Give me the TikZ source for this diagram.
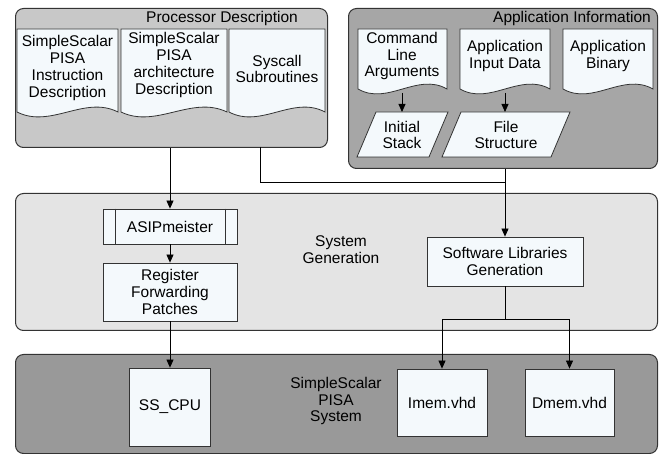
\documentclass[tikz,border=0pt]{standalone}
\usepackage{fontspec}
\setmainfont{Liberation Sans}
\usetikzlibrary{arrows.meta}
\definecolor{procfill}{HTML}{C8C8C8}
\definecolor{appfill}{HTML}{A6A6A6}
\definecolor{genfill}{HTML}{E4E4E4}
\definecolor{sysfill}{HTML}{999999}
\definecolor{docfill}{HTML}{F4F9FC}
\definecolor{edge}{HTML}{333333}
\newcommand\mydocshape[4]{%
  \draw[docshape] (#1,#3) -- (#2,#3) -- (#2,#4)
    .. controls ({#2-(#2-#1)/3},{#4-17}) and ({#1+(#2-#1)/3},{#4+17}) .. (#1,#4) -- cycle;}
\newcommand\myparallel[5]{%
  \draw[docshape] ({#1+#5},#3) -- ({#2+#5},#3) -- (#2,#4) -- (#1,#4) -- cycle;}
\begin{document}
\begin{tikzpicture}[x=1pt,y=-1pt,
  font=\fontsize{15.5}{16.7}\selectfont,
  group/.style={draw=edge, line width=1pt, rounded corners=8pt, inner sep=0pt, anchor=north west},
  docshape/.style={draw=edge, fill=docfill, line width=0.8pt},
  txt/.style={align=center, inner sep=0pt},
  procbox/.style={draw=edge, fill=docfill, line width=0.8pt, align=center, inner sep=0pt},
  arr/.style={-{Triangle[length=8pt,width=7pt]}, line width=0.8pt, draw=black},
  conn/.style={line width=0.8pt, draw=black}]
\useasboundingbox (0,0) rectangle (659,454);

% group boxes
\node[group, fill=procfill, minimum width=312pt, minimum height=139pt] (procgrp) at (15,8) {};
\node[group, fill=appfill, minimum width=309pt, minimum height=160pt] (appgrp) at (348,8) {};
\node[group, fill=genfill, minimum width=642pt, minimum height=137pt] (gengrp) at (15,193) {};
\node[group, fill=sysfill, minimum width=642pt, minimum height=99pt] (sysgrp) at (15,354) {};

\node[txt] (proctitle) at (222,18) {Processor Description};
\node[txt] (apptitle) at (572,18) {Application Information};
\node[txt] (gentitle) at (341,250) {System\\Generation};
\node[txt] (systitle) at (336,401) {SimpleScalar\\PISA\\System};

% processor description documents
\mydocshape{17}{118}{29}{112}
\node[txt] (instr) at (67.5,68) {SimpleScalar\\PISA\\Instruction\\Description};
\mydocshape{121}{227}{29}{112}
\node[txt] (arch) at (174,65) {SimpleScalar\\PISA\\architecture\\Description};
\mydocshape{229}{325}{29}{112}
\node[txt] (syscall) at (277,69) {Syscall\\Subroutines};

% application documents
\mydocshape{358}{447}{29}{89}
\node[txt] (cla) at (402,56) {Command\\Line\\Arguments};
\mydocshape{460}{550}{29}{89}
\node[txt] (aid) at (505,56) {Application\\Input Data};
\mydocshape{563}{653}{29}{89}
\node[txt] (abin) at (608,56) {Application\\Binary};

% parallelograms
\myparallel{357}{429}{112}{157}{19}
\node[txt] (istack) at (402,135) {Initial\\Stack};
\myparallel{442}{551}{112}{157}{19}
\node[txt] (fstruct) at (506,135) {File\\Structure};
\coordinate (clab) at (402,93);
\coordinate (aidb) at (505,93);
\coordinate (istop) at (402,112);
\coordinate (fstop) at (505,112);
\draw[arr] (clab) -- (istop);
\draw[arr] (aidb) -- (fstop);

% system generation boxes
\node[procbox, minimum width=134pt, minimum height=35pt] (asip) at (170,226.5) {ASIPmeister};
\draw[line width=0.8pt, draw=edge] ([xshift=13pt]asip.north west) -- ([xshift=13pt]asip.south west)
  ([xshift=-12pt]asip.north east) -- ([xshift=-12pt]asip.south east);
\node[procbox, minimum width=134pt, minimum height=58pt] (regfwd) at (170,292) {Register\\Forwarding\\Patches};
\node[procbox, minimum width=156pt, minimum height=49pt] (swlib) at (505,261.5) {Software Libraries\\Generation};

% system boxes
\node[procbox, minimum width=81pt, minimum height=78pt] (sscpu) at (170,407) {SS\_CPU};
\node[procbox, minimum width=90pt, minimum height=67pt] (imem) at (442,402.5) {Imem.vhd};
\node[procbox, minimum width=89pt, minimum height=67pt] (dmem) at (569.5,402.5) {Dmem.vhd};

% connectors
\draw[arr] (procgrp.south -| asip.north) -- (asip.north);
\draw[arr] (asip.south) -- (regfwd.north);
\draw[arr] (regfwd.south) -- (sscpu.north);
\coordinate (sysc) at (260,147);
\coordinate (join) at (505,182);
\draw[conn] (sysc) |- (join);
\draw[arr] (appgrp.south -| swlib.north) -- (swlib.north);
\coordinate (br) at (505,319);
\draw[conn] (swlib.south) -- (br);
\draw[arr] (br) -| (imem.north);
\draw[arr] (br) -| (dmem.north);
\end{tikzpicture}
\end{document}
